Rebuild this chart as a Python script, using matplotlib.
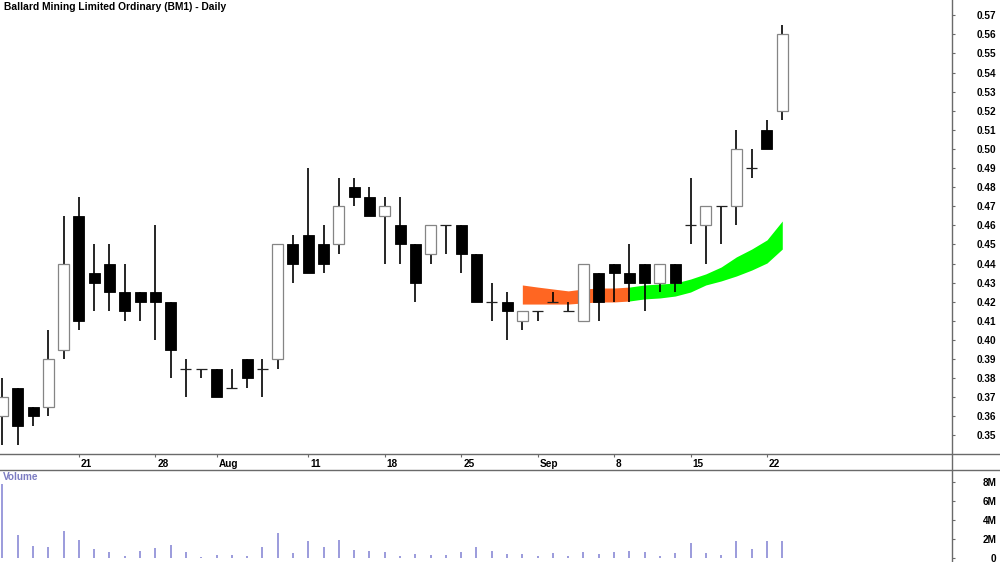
import matplotlib
matplotlib.use("Agg")
import matplotlib.pyplot as plt
from matplotlib.patches import Rectangle, Polygon
from matplotlib.lines import Line2D
from matplotlib.transforms import ScaledTranslation
import pandas as pd

plt.rcParams['font.family'] = ['Liberation Sans', 'DejaVu Sans']

# ---------------- data ----------------
dates = list(pd.bdate_range('2025-07-14', periods=52))

opens = [0.36, 0.375, 0.365, 0.365, 0.395, 0.465, 0.435, 0.44, 0.425, 0.425,
         0.425, 0.42, 0.385, 0.385, 0.385, 0.375, 0.39, 0.385, 0.39, 0.45,
         0.455, 0.45, 0.45, 0.48, 0.475, 0.465, 0.46, 0.45, 0.445, 0.46,
         0.46, 0.445, 0.42, 0.42, 0.41, 0.415, 0.42, 0.415, 0.41, 0.435,
         0.44, 0.435, 0.44, 0.43, 0.44, 0.46, 0.46, 0.47, 0.47, 0.49,
         0.51, 0.52]
highs = [0.38, 0.375, 0.365, 0.405, 0.465, 0.475, 0.45, 0.45, 0.44, 0.425,
         0.46, 0.42, 0.39, 0.385, 0.385, 0.385, 0.39, 0.39, 0.45, 0.455,
         0.49, 0.46, 0.485, 0.485, 0.48, 0.475, 0.475, 0.45, 0.46, 0.46,
         0.46, 0.445, 0.43, 0.425, 0.415, 0.415, 0.425, 0.42, 0.44, 0.435,
         0.44, 0.45, 0.44, 0.44, 0.44, 0.485, 0.47, 0.47, 0.51, 0.50,
         0.515, 0.565]
lows = [0.345, 0.345, 0.355, 0.36, 0.39, 0.405, 0.415, 0.415, 0.41, 0.41,
        0.40, 0.38, 0.37, 0.38, 0.37, 0.375, 0.375, 0.37, 0.385, 0.43,
        0.435, 0.435, 0.445, 0.47, 0.465, 0.44, 0.44, 0.42, 0.44, 0.445,
        0.435, 0.42, 0.41, 0.40, 0.405, 0.41, 0.42, 0.415, 0.41, 0.41,
        0.42, 0.42, 0.415, 0.425, 0.425, 0.45, 0.44, 0.45, 0.46, 0.485,
        0.50, 0.515]
closes = [0.37, 0.355, 0.36, 0.39, 0.44, 0.41, 0.43, 0.425, 0.415, 0.42,
          0.42, 0.395, 0.385, 0.385, 0.37, 0.375, 0.38, 0.385, 0.45, 0.44,
          0.435, 0.44, 0.47, 0.475, 0.465, 0.47, 0.45, 0.43, 0.46, 0.46,
          0.445, 0.42, 0.42, 0.415, 0.415, 0.415, 0.42, 0.415, 0.44, 0.42,
          0.435, 0.43, 0.43, 0.44, 0.43, 0.46, 0.47, 0.47, 0.50, 0.49,
          0.50, 0.56]
volumes_m = [7.8, 2.4, 1.25, 1.15, 2.85, 1.9, 0.95, 0.65, 0.2, 0.75,
             1.05, 1.35, 0.6, 0.1, 0.3, 0.3, 0.2, 1.15, 2.65, 0.5,
             1.8, 1.15, 1.9, 0.85, 0.75, 0.65, 0.2, 0.4, 0.3, 0.3,
             0.6, 1.2, 0.75, 0.4, 0.4, 0.2, 0.5, 0.2, 0.6, 0.4,
             0.65, 0.75, 0.6, 0.2, 0.5, 1.6, 0.5, 0.3, 1.8, 0.95,
             1.8, 1.8]

band_start = 34
band_switch = 41
band_upper = [0.4288, 0.4277, 0.4267, 0.4257, 0.4267, 0.4272, 0.4272, 0.4277,
              0.4288, 0.4293, 0.4298, 0.4319, 0.4346, 0.4382, 0.4435, 0.4476,
              0.4524, 0.4623]
band_lower = [0.4188, 0.4188, 0.4188, 0.4188, 0.4194, 0.4199, 0.4199, 0.4204,
              0.4215, 0.4220, 0.4230, 0.4251, 0.4288, 0.4309, 0.4335, 0.4366,
              0.4403, 0.4476]

tick_dates = ['2025-07-21', '2025-07-28', '2025-08-01', '2025-08-11', '2025-08-18',
              '2025-08-25', '2025-09-01', '2025-09-08', '2025-09-15', '2025-09-22']
tick_labels = ['21', '28', 'Aug', '11', '18', '25', 'Sep', '8', '15', '22']
price_ticks = [round(0.35 + 0.01 * k, 2) for k in range(23)]
vol_ticks_m = [0, 2, 4, 6, 8]
vol_tick_labels = ['0', '2M', '4M', '6M', '8M']

title = 'Ballard Mining Limited Ordinary (BM1) - Daily'

# ---------------- figure ----------------
W, H = 1000, 562
fig = plt.figure(figsize=(W / 100, H / 100), dpi=100)
FS = 7.2
LINE_C = '#6a6a6a'
AXIS_X = 952 / W

ax = fig.add_axes([0, (H - 454) / H, AXIS_X, 454 / H])
axv = fig.add_axes([0, 0, AXIS_X, 92 / H])

xs = list(range(len(dates)))
bw = 0.72

# band
up = band_upper
lo = band_lower
xb = list(range(band_start, band_start + len(up)))
k = band_switch - band_start
ax.fill_between(xb[:k + 1], lo[:k + 1], up[:k + 1], color='#ff6622', lw=0, zorder=1)
ax.fill_between(xb[k:], lo[k:], up[k:], color='#00ff00', lw=0, zorder=1)

# candles
for i in xs:
    o, h, l, c = opens[i], highs[i], lows[i], closes[i]
    ax.vlines(i, l, h, color='black', lw=1.2, zorder=2)
    if c > o:
        ax.add_patch(Rectangle((i - bw / 2, o), bw, c - o, facecolor='white',
                               edgecolor='#858585', lw=0.9, zorder=3))
    elif c < o:
        ax.add_patch(Rectangle((i - bw / 2, c), bw, o - c, facecolor='black',
                               edgecolor='black', lw=0.6, zorder=3))
    else:
        ax.hlines(o, i - bw / 2, i + bw / 2, color='#222222', lw=0.9, zorder=3)

ax.set_xlim(-0.16, 62.1)
ax.set_ylim(0.3403, 0.578)
for s in ax.spines.values():
    s.set_visible(False)
ax.yaxis.tick_right()
ax.set_yticks(price_ticks)
ax.set_yticklabels(['%.2f' % p for p in price_ticks], ha='right',
                   fontsize=FS, fontweight='bold')
ax.tick_params(axis='y', direction='out', length=2.5, width=0.8, color=LINE_C,
               pad=29.5)

pos = [dates.index(pd.Timestamp(d)) for d in tick_dates]
ax.set_xticks(pos)
ax.set_xticklabels(tick_labels, ha='left', fontsize=FS, fontweight='bold')
ax.tick_params(axis='x', direction='out', length=2.5, width=0.8, color=LINE_C, pad=1)
off = ScaledTranslation(2 / 100, 0, fig.dpi_scale_trans)
for lbl in ax.get_xticklabels():
    lbl.set_transform(lbl.get_transform() + off)

# volume
axv.vlines(xs, 0, [v * 1e6 for v in volumes_m], color='#8a8ad6', lw=1.2)
axv.set_xlim(-0.16, 62.1)
axv.set_ylim(-0.42e6, 9.26e6)
for s in axv.spines.values():
    s.set_visible(False)
axv.set_xticks([])
axv.yaxis.tick_right()
axv.set_yticks([v * 1e6 for v in vol_ticks_m])
axv.set_yticklabels(vol_tick_labels, ha='right', fontsize=FS, fontweight='bold')
axv.tick_params(axis='y', direction='out', length=2.5, width=0.8, color=LINE_C,
                pad=29.5)

# frame lines
fig.add_artist(Line2D([0, 1], [(H - 454) / H] * 2, color=LINE_C, lw=1.0))
fig.add_artist(Line2D([0, 1], [(H - 469.5) / H] * 2, color=LINE_C, lw=1.0))
fig.add_artist(Line2D([AXIS_X, AXIS_X], [0, 1], color=LINE_C, lw=1.0))

fig.text(4 / W, 1 - 2 / H, title, ha='left', va='top', fontsize=7.4,
         fontweight='bold', color='black')
fig.text(3 / W, 1 - 472 / H, 'Volume', ha='left', va='top', fontsize=FS,
         fontweight='bold', color='#7c7cc2')

fig.savefig('out.png', dpi=100)
